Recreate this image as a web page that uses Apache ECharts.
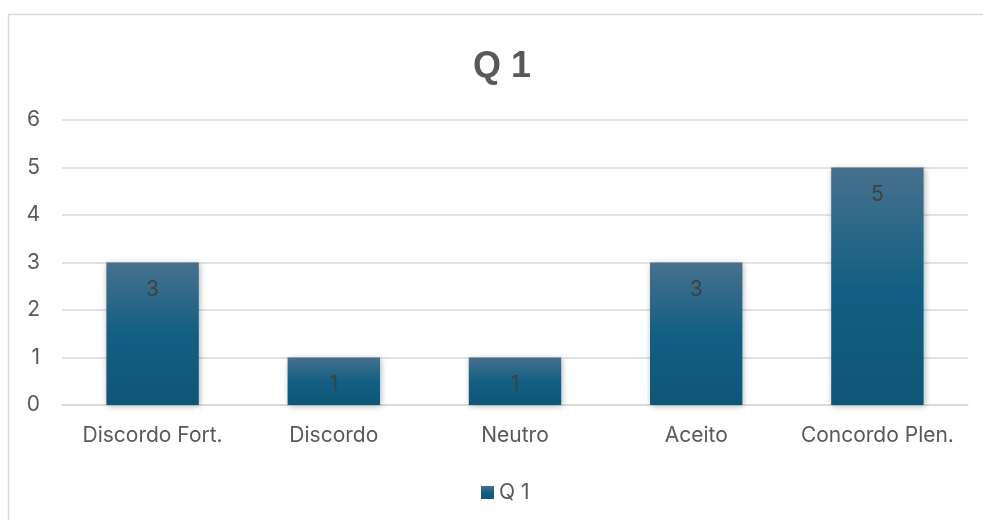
<!DOCTYPE html>
<html><head><meta charset="utf-8">
<script src="https://cdn.jsdelivr.net/npm/echarts@6/dist/echarts.min.js"></script>
<style>html,body{margin:0;padding:0;background:#fff}#c{width:983px;height:520px}</style>
</head><body><div id="c"></div>
<script>
const categories = ['Discordo Fort.', 'Discordo', 'Neutro', 'Aceito', 'Concordo Plen.'];
const values = [3, 1, 1, 3, 5];
const seriesName = 'Q 1';
const titleText = 'Q 1';

const FONT = 'Inter, Liberation Sans, Arial';
const chart = echarts.init(document.getElementById('c'), null, {renderer: 'canvas'});
const barColor = new echarts.graphic.LinearGradient(0, 0, 0, 1, [
  {offset: 0, color: '#47718d'},
  {offset: 0.5, color: '#135f83'},
  {offset: 1, color: '#0e5677'}
]);
chart.setOption({
  backgroundColor: '#fff',
  animation: false,
  graphic: [{
    type: 'rect', shape: {x: 8.5, y: 14.5, width: 1000, height: 600},
    style: {fill: 'none', stroke: '#d9d9d9', lineWidth: 1.5}, silent: true, z: -10
  }],
  title: {
    text: titleText, left: 497, top: 44, textAlign: 'center',
    textStyle: {fontFamily: 'Liberation Sans, Arial', fontSize: 36, fontWeight: 'bold', color: '#595959'}
  },
  legend: {
    data: [seriesName], top: 477, left: 476, icon: 'rect', itemWidth: 13, itemHeight: 13, itemGap: 5,
    textStyle: {fontFamily: FONT, fontSize: 21, color: '#595959'}
  },
  grid: {left: 62, right: 15, top: 120, bottom: 115, containLabel: false},
  xAxis: {
    type: 'category', data: categories,
    axisLine: {lineStyle: {color: '#d9d9d9', width: 1.5}},
    axisTick: {show: false},
    axisLabel: {interval: 0, fontFamily: FONT, fontSize: 21, color: '#595959', margin: 20}
  },
  yAxis: {
    type: 'value', min: 0, max: 6, interval: 1,
    axisLine: {show: false}, axisTick: {show: false},
    splitLine: {lineStyle: {color: '#d9d9d9', width: 1.5}},
    axisLabel: {fontFamily: FONT, fontSize: 21, color: '#595959', margin: 22}
  },
  series: [{
    name: seriesName, type: 'bar', data: values, barWidth: '51%',
    itemStyle: {color: barColor, shadowColor: 'rgba(0,0,0,0.3)', shadowBlur: 6, shadowOffsetX: 1, shadowOffsetY: 1},
    label: {show: true, position: 'insideTop', distance: 17, fontFamily: FONT, fontSize: 21, color: '#404040'}
  }]
});
</script></body></html>
